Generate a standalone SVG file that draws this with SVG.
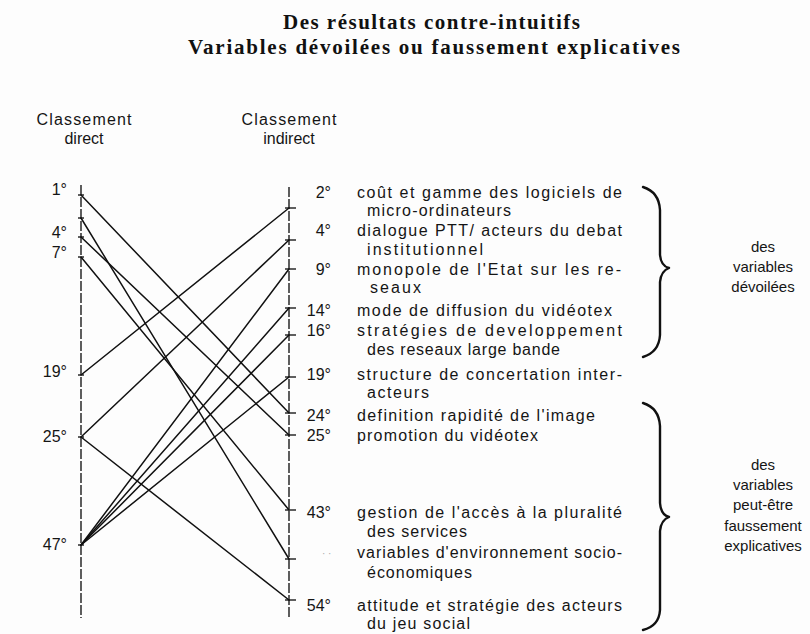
<svg xmlns="http://www.w3.org/2000/svg" width="810" height="634" viewBox="0 0 810 634">
<style>
.t{font-family:"Liberation Serif","Times New Roman",serif;font-weight:bold;font-size:21px;fill:#111}
.s{font-family:"Liberation Sans",Arial,sans-serif;font-size:16px;fill:#151515}
.n{font-family:"Liberation Sans",Arial,sans-serif;font-size:16px;fill:#151515;text-anchor:end}
.c{font-family:"Liberation Sans",Arial,sans-serif;font-size:15px;fill:#151515;text-anchor:middle}
.h{font-family:"Liberation Sans",Arial,sans-serif;font-size:16px;fill:#151515;text-anchor:middle}
.ax{stroke:#1a1a1a;stroke-width:1.4;stroke-dasharray:10 2;fill:none}
.tk{stroke:#1a1a1a;stroke-width:1.4}
.ln{stroke:#111;stroke-width:1.5;fill:none;stroke-linecap:round}
.br{stroke:#111;fill:none;stroke-width:2.4;stroke-linecap:round;stroke-linejoin:round}
</style>
<rect width="810" height="634" fill="#fdfdfd"/>
<g id="title">
<text class="t" x="283" y="29" textLength="297" lengthAdjust="spacing">Des résultats contre-intuitifs</text>
<text class="t" x="188" y="54" textLength="492" lengthAdjust="spacing">Variables dévoilées ou faussement explicatives</text>
</g>
<g id="header-direct">
<text class="h" x="84" y="125" textLength="95" lengthAdjust="spacing">Classement</text>
<text class="h" x="84" y="144">direct</text>
</g>
<g id="header-indirect">
<text class="h" x="289" y="125" textLength="95" lengthAdjust="spacing">Classement</text>
<text class="h" x="289" y="144">indirect</text>
</g>
<g id="axis-direct">
<line class="ax" x1="81" y1="185" x2="81" y2="618"/>
<line class="tk" x1="78" y1="195" x2="84" y2="195"/>
<line class="tk" x1="78" y1="218" x2="84" y2="218"/>
<line class="tk" x1="78" y1="237" x2="84" y2="237"/>
<line class="tk" x1="78" y1="257" x2="84" y2="257"/>
<line class="tk" x1="78" y1="375" x2="84" y2="375"/>
<line class="tk" x1="78" y1="437" x2="84" y2="437"/>
<line class="tk" x1="78" y1="545" x2="84" y2="545"/>
<text class="n" x="67" y="195">1°</text>
<text class="n" x="67" y="238">4°</text>
<text class="n" x="67" y="258">7°</text>
<text class="n" x="67" y="377">19°</text>
<text class="n" x="67" y="442">25°</text>
<text class="n" x="67" y="550">47°</text>
</g>
<g id="axis-indirect">
<line class="ax" x1="289" y1="187" x2="289" y2="618"/>
<line class="tk" x1="285" y1="208" x2="296" y2="208"/>
<line class="tk" x1="285" y1="240" x2="296" y2="240"/>
<line class="tk" x1="285" y1="269" x2="296" y2="269"/>
<line class="tk" x1="285" y1="308" x2="296" y2="308"/>
<line class="tk" x1="285" y1="335" x2="296" y2="335"/>
<line class="tk" x1="285" y1="377" x2="296" y2="377"/>
<line class="tk" x1="285" y1="413" x2="296" y2="413"/>
<line class="tk" x1="285" y1="435" x2="296" y2="435"/>
<line class="tk" x1="285" y1="510" x2="296" y2="510"/>
<line class="tk" x1="285" y1="559" x2="296" y2="559"/>
<line class="tk" x1="285" y1="600" x2="296" y2="600"/>
</g>
<g id="connectors">
<line class="ln" x1="81" y1="195" x2="289" y2="413"/>
<line class="ln" x1="81" y1="218" x2="289" y2="559"/>
<line class="ln" x1="81" y1="237" x2="289" y2="435"/>
<line class="ln" x1="81" y1="257" x2="289" y2="510"/>
<line class="ln" x1="81" y1="375" x2="289" y2="208"/>
<line class="ln" x1="81" y1="437" x2="289" y2="240"/>
<line class="ln" x1="81" y1="437" x2="289" y2="600"/>
<line class="ln" x1="81" y1="545" x2="289" y2="269"/>
<line class="ln" x1="81" y1="545" x2="289" y2="308"/>
<line class="ln" x1="81" y1="545" x2="289" y2="335"/>
<line class="ln" x1="81" y1="545" x2="289" y2="377"/>
</g>
<g id="item-2">
<text class="n" x="331" y="198">2°</text>
<text class="s" x="357" y="198" textLength="265" lengthAdjust="spacing">coût et gamme des logiciels de</text>
<text class="s" x="367" y="216" textLength="144" lengthAdjust="spacing">micro-ordinateurs</text>
</g>
<g id="item-4">
<text class="n" x="331" y="236">4°</text>
<text class="s" x="357" y="236" textLength="265" lengthAdjust="spacing">dialogue PTT/ acteurs du debat</text>
<text class="s" x="367" y="255" textLength="116" lengthAdjust="spacing">institutionnel</text>
</g>
<g id="item-9">
<text class="n" x="331" y="275">9°</text>
<text class="s" x="357" y="275" textLength="264" lengthAdjust="spacing">monopole de l'Etat sur les re-</text>
<text class="s" x="370" y="293" textLength="51" lengthAdjust="spacing">seaux</text>
</g>
<g id="item-14">
<text class="n" x="331" y="316">14°</text>
<text class="s" x="357" y="316" textLength="255" lengthAdjust="spacing">mode de diffusion du vidéotex</text>
</g>
<g id="item-16">
<text class="n" x="331" y="336">16°</text>
<text class="s" x="357" y="336" textLength="265" lengthAdjust="spacing">stratégies  de  developpement</text>
<text class="s" x="367" y="355" textLength="193" lengthAdjust="spacing">des reseaux large bande</text>
</g>
<g id="item-19">
<text class="n" x="331" y="380">19°</text>
<text class="s" x="357" y="380" textLength="265" lengthAdjust="spacing">structure de concertation inter-</text>
<text class="s" x="367" y="398" textLength="62" lengthAdjust="spacing">acteurs</text>
</g>
<g id="item-24">
<text class="n" x="331" y="421">24°</text>
<text class="s" x="357" y="421" textLength="238" lengthAdjust="spacing">definition rapidité de l'image</text>
</g>
<g id="item-25">
<text class="n" x="331" y="441">25°</text>
<text class="s" x="357" y="441" textLength="181" lengthAdjust="spacing">promotion du vidéotex</text>
</g>
<g id="item-43">
<text class="n" x="331" y="518">43°</text>
<text class="s" x="357" y="518" textLength="265" lengthAdjust="spacing">gestion de l'accès à la pluralité</text>
<text class="s" x="367" y="537" textLength="100" lengthAdjust="spacing">des services</text>
</g>
<g id="item-env">
<text class="s" x="322" y="557" style="fill:#aaa;font-size:10px">· ·</text>
<text class="s" x="357" y="558" textLength="265" lengthAdjust="spacing">variables d'environnement socio-</text>
<text class="s" x="367" y="578" textLength="105" lengthAdjust="spacing">économiques</text>
</g>
<g id="item-54">
<text class="n" x="331" y="611">54°</text>
<text class="s" x="357" y="611" textLength="265" lengthAdjust="spacing">attitude et stratégie des acteurs</text>
<text class="s" x="367" y="629" textLength="103" lengthAdjust="spacing">du jeu social</text>
</g>
<g id="brace-devoilees">
<path class="br" d="M643,187 Q659,192 660,210 L660,255 Q661,266 669,268 Q661,271 660,282 L660,335 Q659,352 643,357"/>
<text class="c" x="763" y="252">des</text>
<text class="c" x="763" y="272">variables</text>
<text class="c" x="763" y="292">dévoilées</text>
</g>
<g id="brace-faussement">
<path class="br" d="M643,403 Q659,408 660,426 L660,503 Q661,515 669,517 Q661,520 660,531 L660,610 Q659,626 643,630"/>
<text class="c" x="763" y="470">des</text>
<text class="c" x="763" y="490">variables</text>
<text class="c" x="763" y="510">peut-être</text>
<text class="c" x="763" y="531">faussement</text>
<text class="c" x="763" y="551">explicatives</text>
</g>
</svg>
